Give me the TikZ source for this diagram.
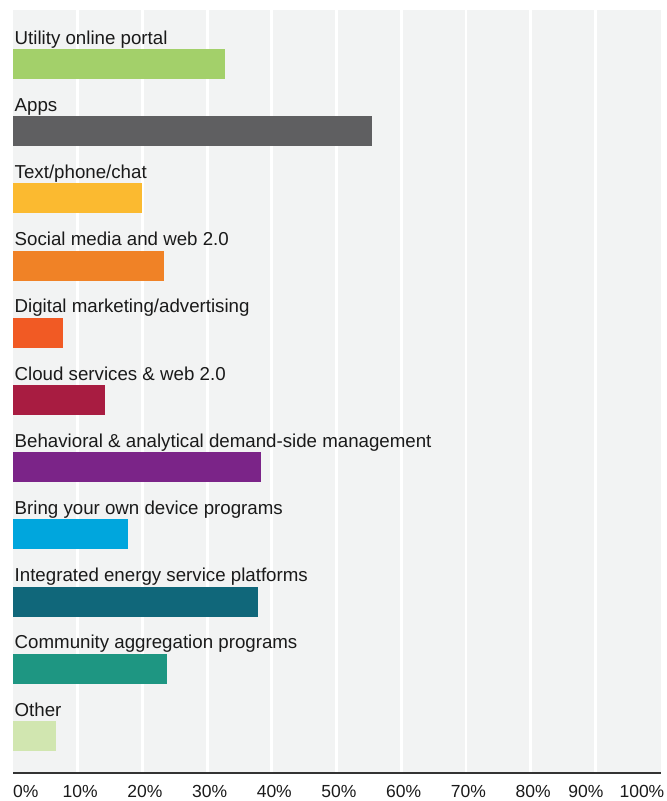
\documentclass[tikz,border=0pt]{standalone}
\usepackage{fontspec}
\setmainfont{Liberation Sans}
\definecolor{panel}{HTML}{F2F3F3}
\definecolor{axisgray}{HTML}{333333}
\definecolor{textgray}{HTML}{1A1A1A}
\definecolor{cPortal}{HTML}{A3D06A}
\definecolor{cApps}{HTML}{5F5F61}
\definecolor{cText}{HTML}{FBBA30}
\definecolor{cSocial}{HTML}{F08226}
\definecolor{cDigital}{HTML}{F15A24}
\definecolor{cCloud}{HTML}{A81C41}
\definecolor{cBehav}{HTML}{7B2488}
\definecolor{cByod}{HTML}{00A6DD}
\definecolor{cIntegr}{HTML}{10677A}
\definecolor{cCommun}{HTML}{1E9682}
\definecolor{cOther}{HTML}{D1E6B0}
\begin{document}
\begin{tikzpicture}[x=1pt,y=-1pt,
barlabel/.style={anchor=base west,inner sep=0pt,text=textgray,font=\fontsize{18.7}{22}\selectfont},
ticklabel/.style={anchor=base,inner sep=0pt,text=textgray,font=\fontsize{17.5}{20}\selectfont}]
\useasboundingbox (0,0) rectangle (667,801);
\def\u{64.7}
\def\h{67.2}
\fill[panel] (13,10) rectangle (661,773);
\foreach \k in {1,...,9}{
\draw[white,line width=2.8pt] ({13+\u*\k},10) -- ({13+\u*\k},773);
}
\foreach \name/\val/\col [count=\i from 0] in {
Utility online portal/32.8/cPortal,
Apps/55.5/cApps,
{Text/phone/chat}/20.0/cText,
Social media and web 2.0/23.3/cSocial,
{Digital marketing/advertising}/7.8/cDigital,
Cloud services \& web 2.0/14.2/cCloud,
Behavioral \& analytical demand-side management/38.3/cBehav,
Bring your own device programs/17.7/cByod,
Integrated energy service platforms/37.9/cIntegr,
Community aggregation programs/23.8/cCommun,
Other/6.6/cOther}{
\pgfmathsetmacro{\y}{49+\h*\i}
\fill[\col] (13,\y) rectangle ({13+\u*\val/10},{\y+30});
\node[barlabel] (lab\i) at (14.5,{\y-5}) {\name};
}
\coordinate (axisL) at (13,773);
\coordinate (axisR) at (661,773);
\draw[axisgray,line width=1.4pt] (axisL) -- (axisR);
\node[ticklabel,anchor=base west] (t0) at (13,797) {0\%};
\foreach \k in {1,...,8}{
\node[ticklabel] (t\k) at ({15.5+\u*\k},797) {\k0\%};
}
\node[ticklabel] (t9) at (586,797) {90\%};
\node[ticklabel,anchor=base east] (t10) at (664.5,797) {100\%};
\end{tikzpicture}
\end{document}
